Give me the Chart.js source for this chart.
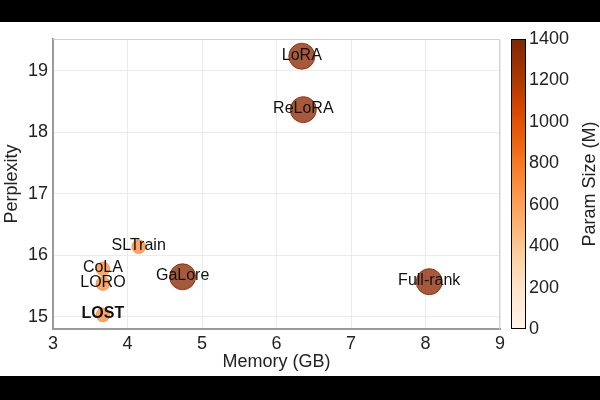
<!DOCTYPE html>
<html>
<head>
<meta charset="utf-8">
<script src="https://cdn.jsdelivr.net/npm/chart.js@4.4.0/dist/chart.umd.min.js"></script>
<style>
  html, body { margin: 0; padding: 0; background: #000; width: 600px; height: 400px; overflow: hidden; }
  #wrap { position: absolute; left: 0; top: 22px; width: 600px; height: 354px; background: #fff; }
</style>
</head>
<body>
<div id="wrap"><canvas id="myChart" width="600" height="354"></canvas></div>
<script>
const methods = ['LoRA', 'ReLoRA', 'GaLore', 'Full-rank', 'SLTrain', 'CoLA', 'LORO', 'LOST'];
const memoryGB = [6.34, 6.36, 4.74, 8.05, 4.15, 3.67, 3.67, 3.67];
const perplexity = [19.24, 18.37, 15.65, 15.57, 16.14, 15.78, 15.54, 15.03];
const paramSizeM = [1339, 1339, 1339, 1339, 700, 700, 700, 700];
const xTicks = [3, 4, 5, 6, 7, 8, 9];
const yTicks = [15, 16, 17, 18, 19];
const cbarTicks = [0, 200, 400, 600, 800, 1000, 1200, 1400];

const FONT = "'Liberation Sans', Arial, sans-serif";

// matplotlib "Oranges"
const orangeStops = [
  [255, 245, 235], [254, 230, 206], [253, 208, 162], [253, 174, 107],
  [253, 141, 60], [241, 105, 19], [217, 72, 1], [166, 54, 3], [127, 39, 4]
];
function oranges(t, alpha) {
  t = Math.max(0, Math.min(1, t));
  const pos = t * (orangeStops.length - 1);
  const i = Math.min(Math.floor(pos), orangeStops.length - 2);
  const f = pos - i;
  const c = orangeStops[i].map((v, k) => Math.round(v + (orangeStops[i + 1][k] - v) * f));
  return `rgba(${c[0]},${c[1]},${c[2]},${alpha})`;
}
const cmax = 1400;

// keep tick-label overflow from pushing the plot area around
function noPad(s) {
  s.paddingTop = 0; s.paddingBottom = 0; s.paddingLeft = 0; s.paddingRight = 0;
}

const extrasPlugin = {
  id: 'extras',
  beforeDatasetsDraw: (chart) => {
    const { ctx, chartArea } = chart;
    ctx.save();
    ctx.strokeStyle = '#d0d0d0';
    ctx.lineWidth = 1;
    ctx.beginPath();
    ctx.moveTo(chartArea.left, chartArea.top + 0.5);
    ctx.lineTo(chartArea.right - 0.5, chartArea.top + 0.5);
    ctx.lineTo(chartArea.right - 0.5, chartArea.bottom);
    ctx.stroke();
    ctx.restore();
  },
  afterDatasetsDraw: (chart) => {
    const { ctx } = chart;
    const meta = chart.getDatasetMeta(0);
    ctx.save();
    ctx.fillStyle = '#111';
    ctx.textAlign = 'center';
    ctx.textBaseline = 'middle';
    meta.data.forEach((el, i) => {
      ctx.font = (methods[i] === 'LOST' ? 'bold ' : '') + '16px ' + FONT;
      ctx.fillText(methods[i], el.x, el.y - 1);
    });
    ctx.restore();
  },
  afterDraw: (chart) => {
    const { ctx, chartArea } = chart;
    const cb = chart.scales.cbar;
    const x0 = chartArea.right + 11;
    const w = 15;
    const yTop = cb.getPixelForValue(cmax);
    const yBot = cb.getPixelForValue(0);
    const grad = ctx.createLinearGradient(0, yBot, 0, yTop);
    for (let k = 0; k <= 20; k++) grad.addColorStop(k / 20, oranges(k / 20, 1));
    ctx.save();
    ctx.fillStyle = grad;
    ctx.fillRect(x0, yTop, w, yBot - yTop);
    ctx.strokeStyle = '#000';
    ctx.lineWidth = 1;
    ctx.strokeRect(x0 + 0.5, yTop + 0.5, w - 1, yBot - yTop - 1);
    ctx.translate(590, (yTop + yBot) / 2);
    ctx.rotate(-Math.PI / 2);
    ctx.fillStyle = '#222';
    ctx.font = '18px ' + FONT;
    ctx.textAlign = 'center';
    ctx.textBaseline = 'middle';
    ctx.fillText('Param Size (M)', 0, 0);
    ctx.restore();
  }
};

const ctx = document.getElementById('myChart').getContext('2d');
const myChart = new Chart(ctx, {
  type: 'bubble',
  data: {
    datasets: [{
      data: memoryGB.map((x, i) => ({ x: x, y: perplexity[i], p: paramSizeM[i] })),
      radius: (c) => 13 * (c.raw ? c.raw.p : 0) / 1339,
      backgroundColor: (c) => oranges((c.raw ? c.raw.p : 0) / cmax, 0.78),
      borderColor: (c) => oranges((c.raw ? c.raw.p : 0) / cmax, 0.9),
      borderWidth: 1
    }]
  },
  options: {
    responsive: false,
    animation: false,
    layout: { padding: { top: 17, left: 0, right: 0, bottom: 0 } },
    plugins: { legend: { display: false }, tooltip: { enabled: false } },
    scales: {
      x: {
        type: 'linear',
        min: 3,
        max: 9,
        afterBuildTicks: (s) => { s.ticks = xTicks.map(v => ({ value: v })); },
        afterFit: (s) => { s.height = 47; noPad(s); },
        grid: { color: '#ebebeb', drawTicks: false },
        border: { color: '#9a9a9a', width: 2 },
        ticks: { font: { family: FONT, size: 18 }, color: '#222', padding: 4, maxRotation: 0 },
        title: { display: true, text: 'Memory (GB)', font: { family: FONT, size: 18 }, color: '#222', padding: { top: 0, bottom: 3 } }
      },
      y: {
        type: 'linear',
        min: 14.8,
        max: 19.52,
        afterBuildTicks: (s) => { s.ticks = yTicks.map(v => ({ value: v })); },
        afterFit: (s) => { s.width = 53; noPad(s); },
        grid: { color: '#ebebeb', drawTicks: false },
        border: { color: '#9a9a9a', width: 2 },
        ticks: { font: { family: FONT, size: 18 }, color: '#222', padding: 5 },
        title: { display: true, text: 'Perplexity', font: { family: FONT, size: 18 }, color: '#222', padding: { top: 1, bottom: 0 } }
      },
      cbar: {
        type: 'linear',
        position: 'right',
        min: 0,
        max: cmax,
        afterBuildTicks: (s) => { s.ticks = cbarTicks.map(v => ({ value: v })); },
        afterFit: (s) => { s.width = 100; noPad(s); },
        grid: { display: false, drawTicks: false },
        border: { display: false },
        ticks: { font: { family: FONT, size: 18 }, color: '#222', padding: 29, autoSkip: false, callback: (v) => String(v) }
      }
    }
  },
  plugins: [extrasPlugin]
});
</script>
</body>
</html>
